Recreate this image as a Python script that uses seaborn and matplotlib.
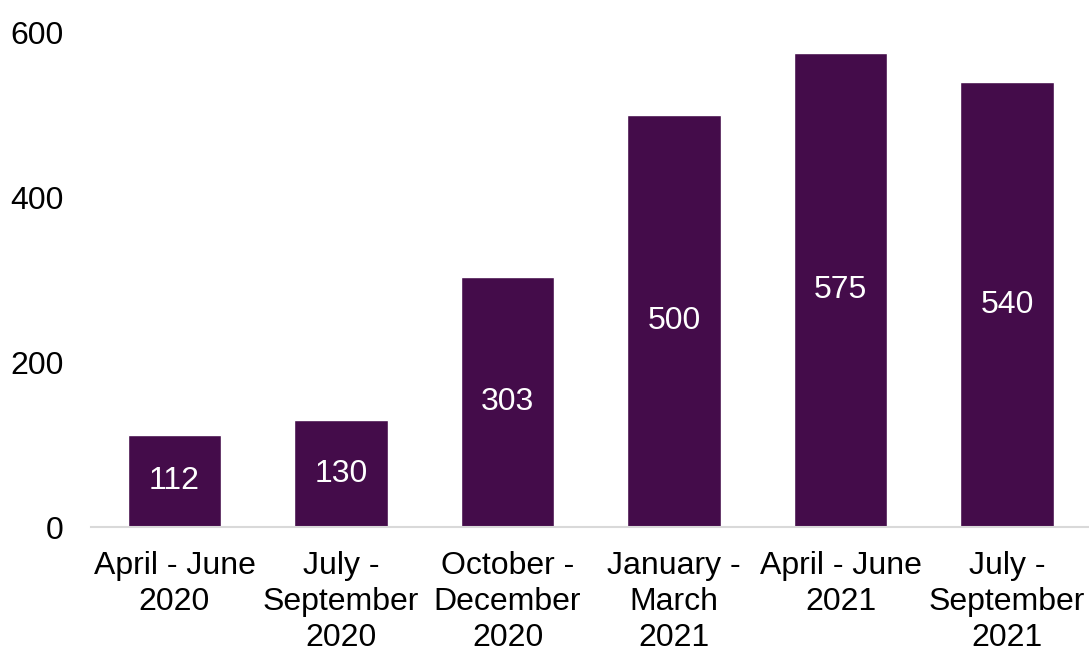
import matplotlib
matplotlib.use("Agg")
import matplotlib.pyplot as plt
import seaborn as sns
import pandas as pd

categories = ["April - June\n2020", "July -\nSeptember\n2020", "October -\nDecember\n2020",
              "January -\nMarch\n2021", "April - June\n2021", "July -\nSeptember\n2021"]
values = [112, 130, 303, 500, 575, 540]
y_ticks = [0, 200, 400, 600]

sns.set_theme(style="white")
plt.rcParams['font.family'] = ['Liberation Sans', 'DejaVu Sans']

df = pd.DataFrame({"period": categories, "value": values})

fig = plt.figure(figsize=(10.89, 6.51), dpi=100)
ax = fig.add_axes([91.25 / 1089, 1 - 527.4 / 651, 999 / 1089, (527.4 - 32.4) / 651])
sns.barplot(data=df, x="period", y="value", color="#440C4A", saturation=1, width=0.56, ax=ax)

for c in ax.containers:
    ax.bar_label(c, labels=[str(v) for v in values], label_type="center", color="white", fontsize=23)

ax.set_ylim(0, 600)
ax.set_xlim(-0.5, len(categories) - 0.5)
ax.set_yticks(y_ticks)
ax.set_xlabel("")
ax.set_ylabel("")
for s in ["top", "right", "left"]:
    ax.spines[s].set_visible(False)
ax.spines["bottom"].set_color("#D9D9D9")
ax.spines["bottom"].set_linewidth(1.5)
ax.tick_params(axis="both", length=0, labelsize=23, colors="black")
ax.tick_params(axis="x", pad=17)
ax.tick_params(axis="y", pad=20)
for t in ax.get_xticklabels():
    t.set_linespacing(1.27)

fig.savefig("out.png", dpi=100, facecolor="white")
